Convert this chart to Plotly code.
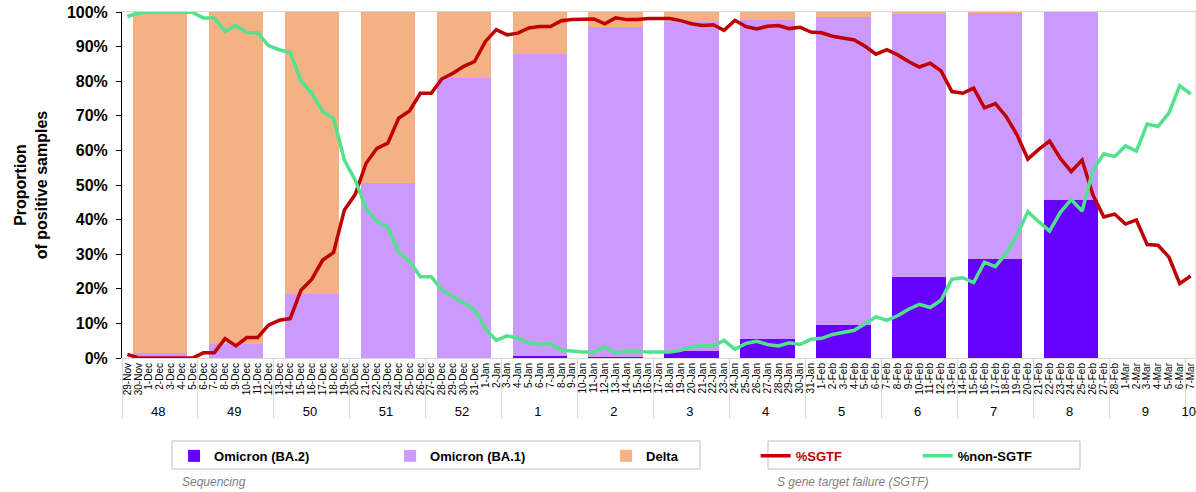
import plotly.graph_objects as go
import pandas as pd

# ---------------- data ----------------
week_labels = ["48", "49", "50", "51", "52", "1", "2", "3", "4", "5", "6", "7", "8", "9", "10"]
day_labels = [d.strftime("%-d-%b") for d in pd.date_range("2021-11-29", "2022-03-07", freq="D")]

# weekly sequencing shares (%) for weeks 48..8
bar_weeks = ["48", "49", "50", "51", "52", "1", "2", "3", "4", "5", "6", "7", "8"]
omicron_ba2 = [0, 0, 0, 0, 0, 0.5, 0.3, 2.0, 5.4, 9.5, 23.5, 28.6, 45.7]
omicron_ba1 = [1.4, 4.0, 18.4, 50.7, 80.9, 87.3, 95.5, 95.1, 92.4, 89.2, 76.1, 71.2, 54.3]
delta = [98.6, 96.0, 81.6, 49.3, 19.1, 12.2, 4.2, 2.9, 2.2, 1.3, 0.4, 0.2, 0.0]

# daily S gene target failure (%)
sgtf = [1.0, 0.1, 0, 0, 0, 0, 0, 1.5, 1.5, 5.6, 3.5, 5.9, 5.9, 9.5, 10.9, 11.4, 19.6, 22.8, 28.3, 30.5,
        42.8, 47.3, 56.3, 60.6, 62.1, 69.3, 71.4, 76.5, 76.5, 80.7, 82.3, 84.3, 85.7, 91.5, 94.9, 93.4,
        93.9, 95.4, 95.8, 95.8, 97.5, 97.8, 98.0, 98.0, 96.6, 98.3, 97.8, 97.8, 98.1, 98.1, 98.1, 97.5,
        96.6, 96.1, 96.3, 94.7, 97.6, 95.8, 95.1, 95.9, 96.1, 95.2, 95.6, 94.2, 94.0, 93.0, 92.5, 91.9,
        90.1, 87.8, 89.1, 87.6, 85.7, 84.1, 85.2, 83.0, 77.0, 76.5, 78.0, 72.3, 73.5, 69.8, 64.5, 57.5,
        60.3, 62.7, 57.7, 53.9, 57.2, 47.1, 40.8, 41.6, 38.7, 39.9, 32.8, 32.6, 29.2, 21.5, 23.7]
non_sgtf = [98.7, 99.7, 99.9, 99.9, 99.9, 99.9, 99.9, 98.3, 98.3, 94.4, 96.1, 94.1, 94.0, 90.3, 89.1, 88.3,
            80.1, 76.5, 71.2, 69.3, 57.2, 51.4, 43.2, 39.4, 37.9, 30.5, 28.0, 23.5, 23.5, 19.6, 17.7, 15.7,
            14.0, 8.5, 5.1, 6.4, 5.8, 4.4, 3.9, 4.2, 2.2, 2.0, 1.7, 1.7, 3.2, 1.5, 2.0, 2.0, 1.7, 1.7, 1.7,
            2.2, 3.2, 3.6, 3.5, 5.1, 2.5, 4.2, 4.8, 3.9, 3.5, 4.4, 3.9, 5.4, 5.7, 6.8, 7.3, 8.0, 9.9, 11.9,
            10.9, 12.2, 14.1, 15.5, 14.6, 16.7, 22.8, 23.2, 21.8, 27.7, 26.4, 30.2, 35.5, 42.3, 39.4, 36.7,
            42.1, 45.8, 42.5, 54.3, 59.0, 58.2, 61.3, 59.8, 67.6, 66.9, 70.8, 78.7, 76.3]

# ---------------- derived categories ----------------
def wk_lab(w):
    return f"<span style='font-size:13px'>{w}</span>"

day_week = [wk_lab(week_labels[i // 7]) for i in range(len(day_labels))]
x_days = [day_week, day_labels]
# each weekly bar sits on the middle day of its week
bar_centres = [day_labels[week_labels.index(w) * 7 + 3] for w in bar_weeks]
x_bars = [[wk_lab(w) for w in bar_weeks], bar_centres]

FONT = "Liberation Sans, Arial, sans-serif"
fig = go.Figure()

fig.add_trace(go.Scatter(x=x_days, y=sgtf, mode="lines", name="<span style='color:#C00000'>%SGTF</span>",
                         line=dict(color="#C00000", width=3.5), legend="legend2"))
fig.add_trace(go.Scatter(x=x_days, y=non_sgtf, mode="lines", name="%non-SGTF",
                         line=dict(color="#50E28C", width=3.5), legend="legend2"))

for name, vals, col in [("Omicron (BA.2)", omicron_ba2, "#6600FF"),
                        ("Omicron (BA.1)", omicron_ba1, "#CC99FF"),
                        ("Delta", delta, "#F4B183")]:
    fig.add_trace(go.Bar(x=x_bars, y=vals, name=name, width=5, marker=dict(color=col, line=dict(width=0)),
                         legend="legend"))

LEG_Y = -0.283
fig.update_layout(
    width=1196, height=492, autosize=False,
    margin=dict(l=122, r=0, t=12, b=134, autoexpand=False),
    barmode="stack",
    plot_bgcolor="white", paper_bgcolor="white",
    font=dict(family=FONT, color="black"),
    legend=dict(orientation="h", x=0.0485, y=LEG_Y, xanchor="left", yanchor="middle",
                borderwidth=0, bgcolor="rgba(0,0,0,0)", traceorder="normal",
                entrywidth=171, entrywidthmode="pixels",
                font=dict(size=13, family=FONT, color="black", weight="bold")),
    legend2=dict(orientation="h", x=0.590, y=LEG_Y, xanchor="left", yanchor="middle",
                 borderwidth=0, bgcolor="rgba(0,0,0,0)", traceorder="normal",
                 entrywidth=117, entrywidthmode="pixels",
                 font=dict(size=13, family=FONT, color="black", weight="bold")),
    showlegend=True,
)

fig.update_xaxes(type="multicategory", tickangle=-90, tickfont=dict(size=10, family=FONT, color="black"),
                 tickmode="linear", tick0=0, dtick=1, automargin=False,
                 showline=True, linecolor="#D9D9D9", linewidth=1, mirror=True,
                 showdividers=True, dividercolor="#D9D9D9", dividerwidth=1,
                 ticks="", showgrid=False, range=[-0.5, 98.5])
fig.update_yaxes(range=[0, 100], dtick=10, ticksuffix="%", showgrid=False, zeroline=False, automargin=False,
                 showline=True, linecolor="black", linewidth=1, ticks="outside", ticklen=5,
                 ticklabelstandoff=5,
                 tickcolor="black", tickfont=dict(size=16, family=FONT, color="black", weight="bold"),
                 title=dict(text="Proportion<br>of positive samples",
                            font=dict(size=16, family=FONT, color="black", weight="bold")))

fig.add_shape(type="line", xref="paper", yref="paper", x0=1, x1=1, y0=0, y1=1,
              line=dict(color="#D9D9D9", width=1))
# legend frames
for x0, x1 in [(0.0466, 0.5382), (0.6015, 0.892)]:
    fig.add_shape(type="rect", xref="paper", yref="paper", x0=x0, x1=x1, y0=-0.3208, y1=-0.2399,
                  line=dict(color="#BFBFBF", width=1), fillcolor="rgba(0,0,0,0)", layer="below")

fig.add_annotation(text="<i>Sequencing</i>", xref="paper", yref="paper", x=0.054, y=-0.358,
                   xanchor="left", yanchor="middle", showarrow=False,
                   font=dict(size=12, color="#808080", family=FONT))
fig.add_annotation(text="<i>S gene target failure (SGTF)</i>", xref="paper", yref="paper", x=0.608, y=-0.358,
                   xanchor="left", yanchor="middle", showarrow=False,
                   font=dict(size=12, color="#808080", family=FONT))

fig.write_html("out.html", config={"displayModeBar": False},
               post_script="document.body.style.margin='0';document.body.style.overflow='hidden';")
